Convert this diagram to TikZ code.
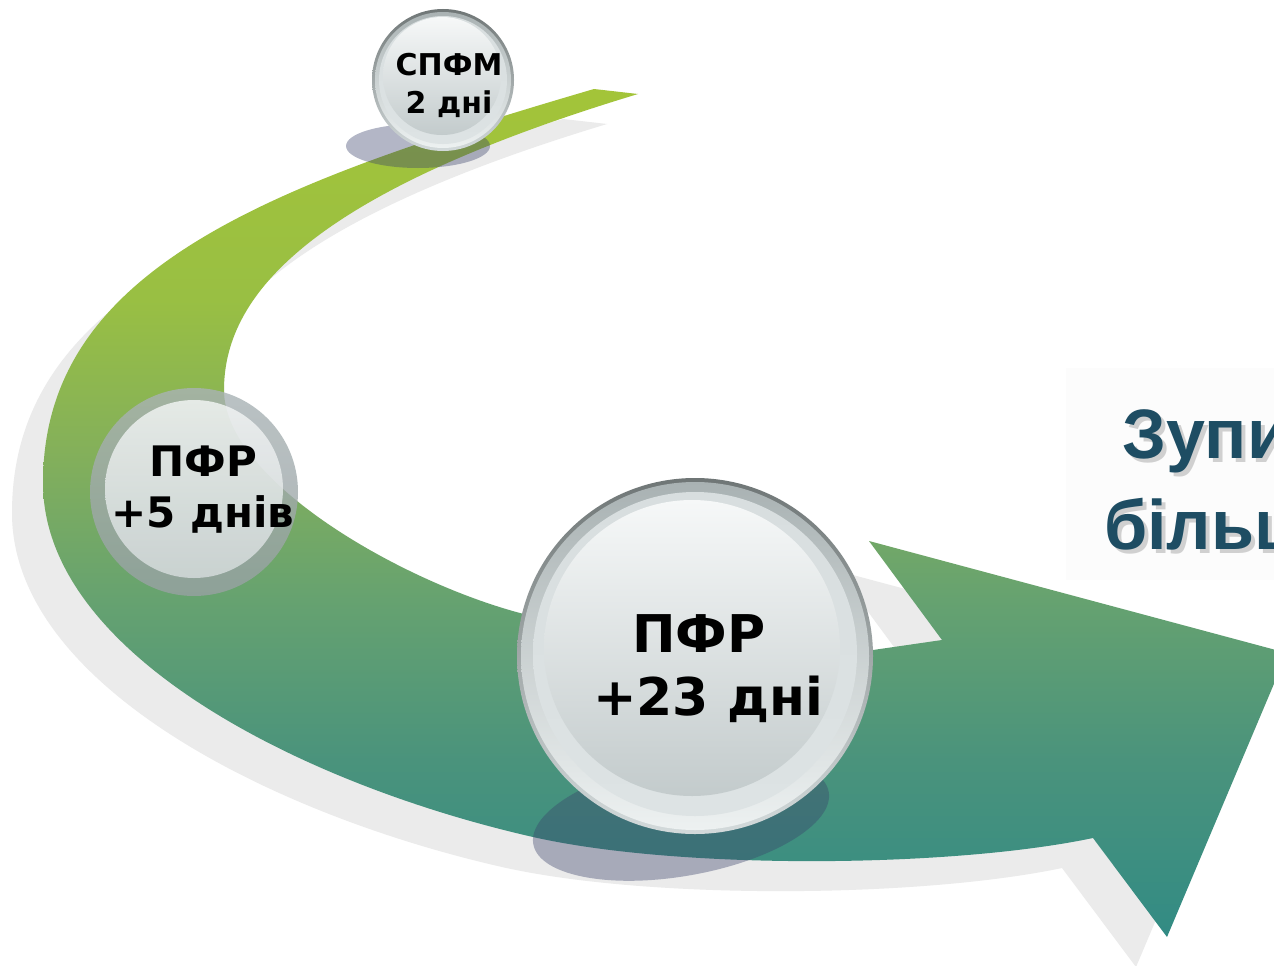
\documentclass[tikz,border=0pt]{standalone}
\usepackage{fontspec}
\usetikzlibrary{calc}
\newfontfamily\dejavu{DejaVu Sans}
\newfontfamily\libsans{Liberation Sans}
\definecolor{gA}{HTML}{328B84}
\definecolor{gB}{HTML}{4A937C}
\definecolor{gC}{HTML}{66A270}
\definecolor{gD}{HTML}{84B05A}
\definecolor{gE}{HTML}{99BF43}
\definecolor{gF}{HTML}{A3C439}
\definecolor{shadowgray}{HTML}{EBEBEB}
\definecolor{dropc}{HTML}{39416A}
\definecolor{titlec}{HTML}{1E4D63}
\definecolor{rimdark}{HTML}{6F7676}
\definecolor{rimlow}{HTML}{D3DADB}
\definecolor{ringtop}{HTML}{A9B2B3}
\definecolor{ringlow}{HTML}{EDF1F1}
\definecolor{disctop}{HTML}{D8DEDF}
\definecolor{disclow}{HTML}{DDE3E4}
\definecolor{hitop}{HTML}{F6F8F8}
\definecolor{himid}{HTML}{D9DFE0}
\definecolor{hilow}{HTML}{C3CBCC}
\definecolor{midring}{HTML}{A9B3B5}
\pgfdeclareverticalshading{arrowgrad}{100bp}{color(0bp)=(gA); color(25bp)=(gA); color(35.4bp)=(gB); color(44.9bp)=(gC); color(53.7bp)=(gD); color(62.6bp)=(gE); color(75bp)=(gF); color(100bp)=(gF)}
\def\arrowoutline{(594,89) .. controls (270,184) and (43,268) .. (43,483) .. controls (43,653) and (300,784) .. (533,837) .. controls (679,870) and (950,868) .. (1093,838) -- (1167,937) -- (1287,653) -- (869,541) -- (942,640) -- (873,650) .. controls (740,662) and (620,640) .. (520,613) .. controls (400,581) and (224,480) .. (224,390) .. controls (224,290) and (320,190) .. (638,94) -- cycle}
\tikzset{
  linetxt/.style={inner sep=0pt, anchor=base, text=black},
  dropshadow/.style={fill=dropc, fill opacity=0.38},
  titletxt/.style={inner sep=0pt, anchor=base west, font=\libsans\bfseries\fontsize{70}{84}\selectfont}
}
\begin{document}
\begin{tikzpicture}[x=1pt,y=-1pt]
\useasboundingbox (0,0) rectangle (1274,966);
\clip (0,0) rectangle (1274,966);
\fill[white] (0,0) rectangle (1274,966);
% shadow of the arrow
\begin{scope}[shift={(-31,30)}]
\fill[shadowgray] \arrowoutline;
\end{scope}
% arrow
\shade[shading=arrowgrad] \arrowoutline;
% faint panel behind title
\fill[black!1.2] (1066,368) rectangle (1274,580);
% sphere centres
\coordinate (c1) at (443,80);
\coordinate (c2) at (194,492);
\coordinate (c3) at (695,656);
% drop shadows
\fill[dropshadow] (418,146) ellipse [x radius=72, y radius=22];
\begin{scope}[shift={(681,818)}, rotate=10]
\fill[dropshadow] (0,0) ellipse [x radius=150, y radius=58];
\end{scope}
% large sphere
\shade[top color=rimdark, bottom color=rimlow] (c3) circle (178);
\shade[top color=ringtop, bottom color=ringlow] (c3) circle (174);
\shade[top color=disctop, bottom color=disclow] ($(c3)+(0,-2)$) circle (162);
\shade[top color=hitop, middle color=himid, bottom color=hilow] ($(c3)+(-3,-8)$) circle (148);
% medium sphere (translucent)
\shade[top color=midring, bottom color=midring!90!black, fill opacity=0.8] (c2) circle (104);
\shade[top color=hitop, bottom color=disctop, fill opacity=0.8] ($(c2)+(0,-3)$) circle (89);
% small sphere
\shade[top color=rimdark, bottom color=rimlow] (c1) circle (71);
\shade[top color=ringtop, bottom color=ringlow] (c1) circle (68);
\shade[top color=disctop, bottom color=disclow] (c1) circle (64);
\shade[top color=hitop, middle color=himid, bottom color=hilow] ($(c1)+(-1,-4)$) circle (59);
% sphere texts
\node[linetxt, font=\dejavu\bfseries\fontsize{30}{36}\selectfont] (s1a) at (449,75) {СПФМ};
\node[linetxt, font=\dejavu\bfseries\fontsize{30}{36}\selectfont] (s1b) at (449,113) {2 дні};
\node[linetxt, font=\dejavu\bfseries\fontsize{42}{48}\selectfont] (s2a) at (203,476) {ПФР};
\node[linetxt, font=\dejavu\bfseries\fontsize{42}{48}\selectfont] (s2b) at (203,527) {+5 днів};
\node[linetxt, font=\dejavu\bfseries\fontsize{52}{60}\selectfont] (s3a) at (699,652) {ПФР};
\node[linetxt, font=\dejavu\bfseries\fontsize{52}{60}\selectfont] (s3b) at (708,715) {+23 дні};
% title (cut by the right edge)
\node[titletxt, text=black!35, opacity=0.5] (t1s) at (1126,462) {Зупин};
\node[titletxt, text=black!35, opacity=0.5] (t2s) at (1108,553) {більш};
\node[titletxt, text=titlec] (t1) at (1122,458) {Зупин};
\node[titletxt, text=titlec] (t2) at (1104,549) {більш};
\end{tikzpicture}
\end{document}
